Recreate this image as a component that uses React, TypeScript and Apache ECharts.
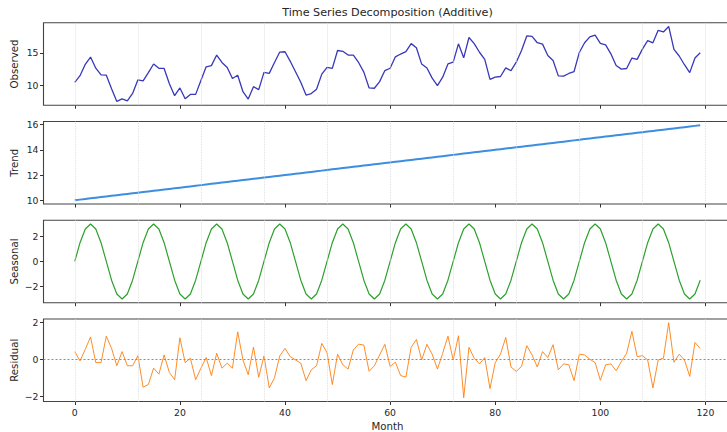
import React, { useEffect, useRef } from "react";
import * as echarts from "echarts";

const title = "Time Series Decomposition (Additive)";
const xTicks = [0, 20, 40, 60, 80, 100, 120];
const yearMarks = [0, 12, 24, 36, 48, 60, 72, 84, 96, 108, 120];

const observedTicks = [10, 15];
const trendTicks = [10, 12, 14, 16];
const seasonalTicks = [-2, 0, 2];
const residualTicks = [-2, 0, 2];

const observed = [
  10.41, 11.46, 13.23, 14.35, 12.62, 11.57, 11.54, 9.43, 7.45, 7.86, 7.55, 8.7,
  10.79, 10.65, 11.94, 13.27, 12.6, 12.58, 10.19, 8.35, 9.55, 7.87, 8.55, 8.55,
  10.72, 12.84, 13.02, 14.67, 13.52, 12.74, 11.02, 11.52, 8.96, 7.82, 9.75, 9.28,
  11.98, 11.81, 13.5, 15.13, 15.18, 13.69, 12.06, 10.44, 8.45, 8.68, 9.35, 11.7,
  12.75, 12.59, 15.37, 15.25, 14.67, 14.65, 13.51, 12.01, 9.55, 9.5, 10.53, 12.25,
  12.61, 14.39, 14.82, 15.19, 16.44, 15.81, 13.26, 12.65, 11.07, 9.92, 11.22, 13.29,
  13.56, 16.41, 14.23, 17.39, 16.45, 15.1, 13.99, 10.87, 11.22, 11.33, 12.67, 12.23,
  13.55, 15.36, 17.63, 17.58, 16.58, 16.36, 14.59, 13.83, 11.43, 11.4, 11.8, 12.1,
  15.07, 16.58, 17.5, 17.77, 16.47, 16.25, 14.85, 13.03, 12.48, 12.57, 14.2, 13.99,
  15.59, 16.91, 16.56, 18.51, 18.25, 19.11, 15.54, 14.52, 13.16, 11.93, 14.2, 15.03,
];

const trend = [
  10.0, 10.05, 10.1, 10.15, 10.2, 10.25, 10.3, 10.35, 10.4, 10.45,
  10.5, 10.55, 10.6, 10.65, 10.7, 10.75, 10.8, 10.85, 10.9, 10.95,
  11.0, 11.05, 11.1, 11.15, 11.2, 11.25, 11.3, 11.35, 11.4, 11.45,
  11.5, 11.55, 11.6, 11.65, 11.7, 11.75, 11.8, 11.85, 11.9, 11.95,
  12.0, 12.05, 12.1, 12.15, 12.2, 12.25, 12.3, 12.35, 12.4, 12.45,
  12.5, 12.55, 12.6, 12.65, 12.7, 12.75, 12.8, 12.85, 12.9, 12.95,
  13.0, 13.05, 13.1, 13.15, 13.2, 13.25, 13.3, 13.35, 13.4, 13.45,
  13.5, 13.55, 13.6, 13.65, 13.7, 13.75, 13.8, 13.85, 13.9, 13.95,
  14.0, 14.05, 14.1, 14.15, 14.2, 14.25, 14.3, 14.35, 14.4, 14.45,
  14.5, 14.55, 14.6, 14.65, 14.7, 14.75, 14.8, 14.85, 14.9, 14.95,
  15.0, 15.05, 15.1, 15.15, 15.2, 15.25, 15.3, 15.35, 15.4, 15.45,
  15.5, 15.55, 15.6, 15.65, 15.7, 15.75, 15.8, 15.85, 15.9, 15.95,
];

const seasonal = [
  0, 1.5, 2.6, 3, 2.6, 1.5, 0, -1.5, -2.6, -3, -2.6, -1.5,
  0, 1.5, 2.6, 3, 2.6, 1.5, 0, -1.5, -2.6, -3, -2.6, -1.5,
  0, 1.5, 2.6, 3, 2.6, 1.5, 0, -1.5, -2.6, -3, -2.6, -1.5,
  0, 1.5, 2.6, 3, 2.6, 1.5, 0, -1.5, -2.6, -3, -2.6, -1.5,
  0, 1.5, 2.6, 3, 2.6, 1.5, 0, -1.5, -2.6, -3, -2.6, -1.5,
  0, 1.5, 2.6, 3, 2.6, 1.5, 0, -1.5, -2.6, -3, -2.6, -1.5,
  0, 1.5, 2.6, 3, 2.6, 1.5, 0, -1.5, -2.6, -3, -2.6, -1.5,
  0, 1.5, 2.6, 3, 2.6, 1.5, 0, -1.5, -2.6, -3, -2.6, -1.5,
  0, 1.5, 2.6, 3, 2.6, 1.5, 0, -1.5, -2.6, -3, -2.6, -1.5,
  0, 1.5, 2.6, 3, 2.6, 1.5, 0, -1.5, -2.6, -3, -2.6, -1.5,
];

const residual = [
  0.41, -0.09, 0.53, 1.2, -0.18, -0.18, 1.24, 0.58, -0.35, 0.41, -0.35, -0.35,
  0.19, -1.5, -1.36, -0.48, -0.8, 0.23, -0.71, -1.1, 1.15, -0.18, 0.05, -1.1,
  -0.48, 0.09, -0.88, 0.32, -0.48, -0.21, -0.48, 1.47, -0.04, -0.83, 0.65, -0.97,
  0.18, -1.54, -1.0, 0.18, 0.58, 0.14, -0.04, -0.21, -1.15, -0.57, -0.35, 0.85,
  0.35, -1.36, 0.27, -0.3, -0.53, 0.5, 0.81, 0.76, -0.65, -0.35, 0.23, 0.8,
  -0.39, -0.16, -0.88, -0.96, 0.64, 1.06, -0.04, 0.8, 0.27, -0.53, 0.32, 1.24,
  -0.04, 1.26, -2.07, 0.64, 0.05, -0.25, 0.09, -1.58, -0.18, 0.28, 1.17, -0.42,
  -0.65, -0.39, 0.73, 0.23, -0.42, 0.41, 0.09, 0.78, -0.57, -0.25, -0.3, -1.15,
  0.27, 0.23, 0.0, -0.18, -1.13, -0.3, -0.25, -0.62, -0.12, 0.32, 1.5, 0.14,
  0.19, -0.04, -1.54, -0.04, 0.05, 1.96, -0.16, 0.27, -0.04, -0.92, 0.9, 0.58,
];

const FONT = "DejaVu Sans";
const TEXT = "#262626";

const fmt = (v: number) => (v < 0 ? "\u2212" + Math.abs(v) : String(v));

export default function App() {
  const ref = useRef<HTMLDivElement>(null);

  useEffect(() => {
    if (!ref.current) return;
    const chart = echarts.init(ref.current, null, { renderer: "svg" });

    const panels = [
      { name: "Observed", data: observed, ticks: observedTicks, min: 6.867, max: 19.694, color: "#3838b8", width: 1.3, top: 22.7 },
      { name: "Trend", data: trend, ticks: trendTicks, min: 9.7025, max: 16.2475, color: "#3d8de0", width: 2, top: 121.5 },
      { name: "Seasonal", data: seasonal, ticks: seasonalTicks, min: -3.3, max: 3.3, color: "#2ca02c", width: 1.2, top: 220.2 },
      { name: "Residual", data: residual, ticks: residualTicks, min: -2.2715, max: 2.1615, color: "#ff7f0e", width: 0.9, top: 319 },
    ];
    const H = 82.5;

    const grid = panels.map((p) => ({
      left: 43.5,
      right: -4.5,
      top: p.top,
      height: H,
      show: true,
      borderColor: "#444",
      borderWidth: 1.1,
      backgroundColor: "transparent",
      containLabel: false,
      outerBoundsMode: "none",
    }));

    const xAxis = panels.map((p, i) => ({
      type: "value",
      gridIndex: i,
      min: -5.95,
      max: 124.95,
      position: "bottom",
      axisLine: { show: false, onZero: false },
      splitLine: { show: false },
      axisTick: {
        show: true,
        customValues: xTicks,
        length: 3.5,
        lineStyle: { color: "#333", width: 1 },
      },
      axisLabel: {
        show: i === 3,
        customValues: xTicks,
        fontSize: 9.3,
        color: TEXT,
        fontFamily: FONT,
        margin: 6,
      },
      name: i === 3 ? "Month" : "",
      nameLocation: "middle",
      nameGap: 20,
      nameMoveOverlap: false,
      nameTextStyle: { fontSize: 10.2, color: TEXT, fontFamily: FONT },
    }));

    const yAxis = panels.map((p, i) => ({
      type: "value",
      gridIndex: i,
      min: p.min,
      max: p.max,
      position: "left",
      axisLine: { show: false, onZero: false },
      splitLine: { show: false },
      axisTick: {
        show: true,
        customValues: p.ticks,
        length: 3.5,
        lineStyle: { color: "#333", width: 1 },
      },
      axisLabel: {
        customValues: p.ticks,
        formatter: (v: number) => fmt(v),
        fontSize: 9.3,
        color: TEXT,
        fontFamily: FONT,
        margin: 5,
      },
      name: p.name,
      nameLocation: "middle",
      nameGap: 24,
      nameMoveOverlap: false,
      nameTextStyle: { fontSize: 10.2, color: TEXT, fontFamily: FONT },
    }));

    const series: any[] = [];
    panels.forEach((p, i) => {
      series.push({
        type: "line",
        xAxisIndex: i,
        yAxisIndex: i,
        data: [],
        z: 1,
        silent: true,
        markLine: {
          silent: true,
          symbol: ["none", "none"],
          label: { show: false },
          animation: false,
          lineStyle: { color: "#d9d9d9", type: "dotted", width: 0.8 },
          data: yearMarks.map((m) => ({ xAxis: m })),
        },
      });
      if (i === 3) {
        series.push({
          type: "line",
          xAxisIndex: i,
          yAxisIndex: i,
          data: [],
          z: 1,
          silent: true,
          markLine: {
            silent: true,
            symbol: ["none", "none"],
            label: { show: false },
            animation: false,
            lineStyle: { color: "#8c8c8c", type: [2, 2], width: 1 },
            data: [{ yAxis: 0 }],
          },
        });
      }
      series.push({
        type: "line",
        name: p.name,
        xAxisIndex: i,
        yAxisIndex: i,
        z: 3,
        showSymbol: false,
        symbol: "none",
        lineStyle: { color: p.color, width: p.width },
        itemStyle: { color: p.color },
        data: p.data.map((v, k) => [k, v]),
      });
    });

    chart.setOption({
      animation: false,
      backgroundColor: "#ffffff",
      grid,
      xAxis,
      yAxis,
      series,
      graphic: [
        {
          type: "text",
          x: 387.5,
          y: 12.5,
          style: {
            text: title,
            fontSize: 11.2,
            fontFamily: FONT,
            fill: TEXT,
            textAlign: "center",
            textVerticalAlign: "middle",
          },
        },
      ],
    });

    return () => chart.dispose();
  }, []);

  return (
    <div
      ref={ref}
      style={{ position: "fixed", left: 0, top: 0, width: 727, height: 432, background: "#fff" }}
    />
  );
}
